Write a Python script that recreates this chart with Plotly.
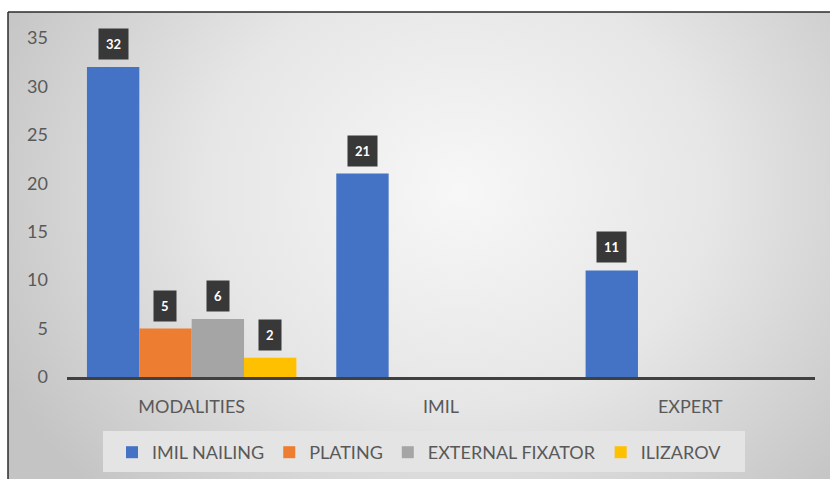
import base64
import plotly.graph_objects as go

# Chart data
categories = ["MODALITIES", "IMIL", "EXPERT"]
series_names = ["IMIL NAILING", "PLATING", "EXTERNAL FIXATOR", "ILIZAROV"]
imil_nailing = [32, 21, 11]
plating = [5, 0, 0]
external_fixator = [6, 0, 0]
ilizarov = [2, 0, 0]
y_ticks = [0, 5, 10, 15, 20, 25, 30, 35]

series_values = [imil_nailing, plating, external_fixator, ilizarov]
colors = ["#4472C4", "#ED7D31", "#A5A5A5", "#FFC000"]

# Figure geometry (pixels)
W, H = 830, 479
L, R, T, B = 67, 15, 38, 102
pw, ph = W - L - R, H - T - B
BARGAP = 0.16
FONT = "Lato, Liberation Sans, Arial"


def px_to_paper_x(px):
    return (px - L) / pw


def px_to_paper_y(py):
    return (H - B - py) / ph


fig = go.Figure()
for name, vals, col in zip(series_names, series_values, colors):
    fig.add_trace(go.Bar(
        name=name, x=categories, y=vals,
        marker=dict(color=col, line=dict(width=0)),
    ))

# Value labels: dark boxes centred over each non-zero bar
n = len(series_values)
bw = (1 - BARGAP) / n
for i, vals in enumerate(series_values):
    offset = -(1 - BARGAP) / 2 + bw * (i + 0.5)
    for ci, v in enumerate(vals):
        if v == 0:
            continue
        fig.add_annotation(
            x=ci + offset, y=v, xref="x", yref="y",
            text=f"<b>{v}</b>", showarrow=False,
            yanchor="bottom", yshift=7,
            font=dict(family=FONT, size=13, color="#ffffff"),
            bgcolor="#383838", borderpad=7,
        )

# Soft radial background inside the chart frame
svg = (
    '<svg xmlns="http://www.w3.org/2000/svg" width="822" height="467" '
    'viewBox="0 0 822 467" preserveAspectRatio="none">'
    '<defs><radialGradient id="g" cx="0.55" cy="0.38" r="0.62" '
    'gradientTransform="translate(0.55 0.38) scale(1 1.5) translate(-0.55 -0.38)">'
    '<stop offset="0" stop-color="#f7f7f7"/>'
    '<stop offset="0.5" stop-color="#e6e6e6"/>'
    '<stop offset="1" stop-color="#c4c4c4"/>'
    '</radialGradient></defs>'
    '<rect width="822" height="467" fill="url(#g)"/></svg>'
)
src = "data:image/svg+xml;base64," + base64.b64encode(svg.encode()).decode()
fig.add_layout_image(
    source=src, xref="paper", yref="paper",
    x=px_to_paper_x(8), y=px_to_paper_y(12),
    sizex=(W - 8) / pw, sizey=(H - 12) / ph,
    xanchor="left", yanchor="top", sizing="stretch", layer="below",
)

# Frame lines (top and left)
fig.add_shape(type="line", xref="paper", yref="paper",
              x0=px_to_paper_x(8), x1=px_to_paper_x(W), y0=px_to_paper_y(12), y1=px_to_paper_y(12),
              line=dict(color="#2b2b2b", width=1.5))
fig.add_shape(type="line", xref="paper", yref="paper",
              x0=px_to_paper_x(8), x1=px_to_paper_x(8), y0=px_to_paper_y(12), y1=px_to_paper_y(H),
              line=dict(color="#2b2b2b", width=1.5))

# Legend panel
fig.add_shape(type="rect", xref="paper", yref="paper",
              x0=px_to_paper_x(103), x1=px_to_paper_x(745),
              y0=px_to_paper_y(472), y1=px_to_paper_y(431),
              fillcolor="#e4e4e4", line=dict(width=0), layer="below")

fig.update_layout(
    width=W, height=H,
    margin=dict(l=L, r=R, t=T, b=B, autoexpand=False),
    paper_bgcolor="#ffffff",
    plot_bgcolor="rgba(0,0,0,0)",
    barmode="group", bargap=BARGAP, bargroupgap=0,
    font=dict(family=FONT, color="#595959"),
    showlegend=True,
    legend=dict(
        orientation="h", x=px_to_paper_x(112), y=px_to_paper_y(434),
        xanchor="left", yanchor="top",
        bgcolor="rgba(0,0,0,0)", font=dict(size=18, color="#595959", family=FONT),
        itemwidth=30, traceorder="normal",
    ),
    xaxis=dict(
        showline=True, linecolor="#404040", linewidth=3,
        showgrid=False, ticks="", tickfont=dict(size=18, color="#595959"),
        ticklabelstandoff=11,
    ),
    yaxis=dict(
        range=[0, 35], tickvals=y_ticks, showgrid=False, zeroline=False,
        showline=False, ticks="", tickfont=dict(size=18, color="#595959"),
        ticklabelstandoff=18,
    ),
)

fig.write_html("out.html")
